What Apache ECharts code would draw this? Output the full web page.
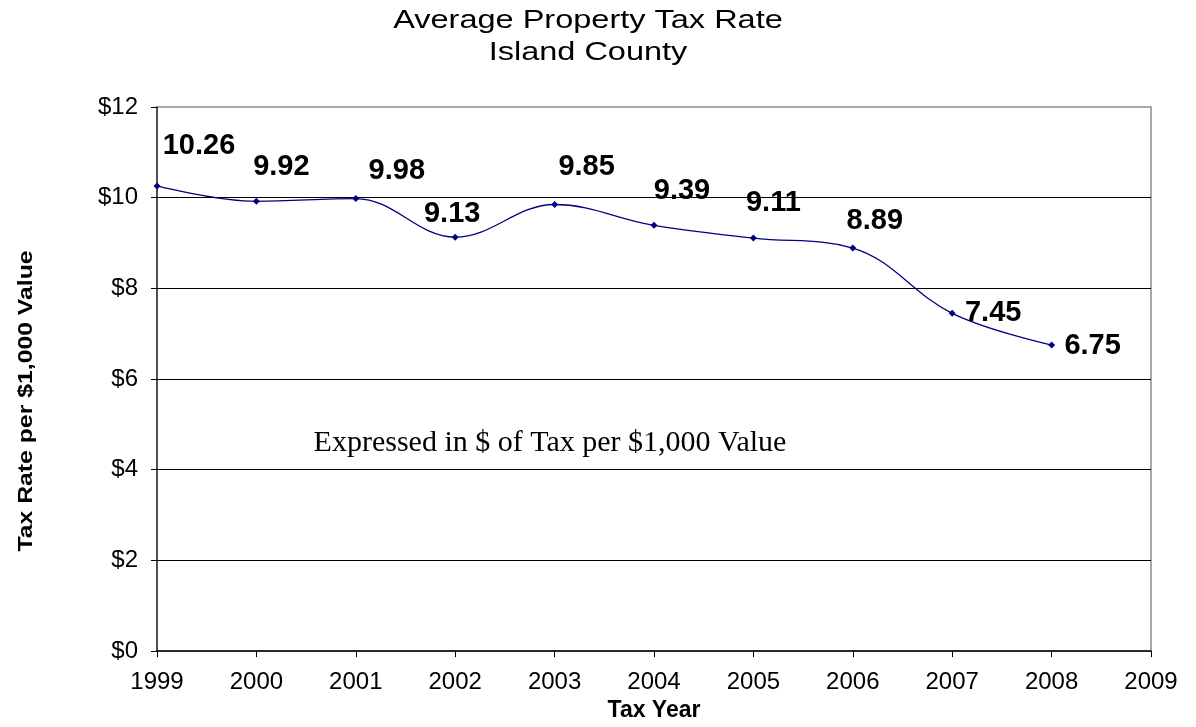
<!DOCTYPE html>
<html>
<head>
<meta charset="utf-8">
<script src="https://cdn.jsdelivr.net/npm/echarts@6/dist/echarts.min.js"></script>
<style>html,body{margin:0;padding:0;background:#fff}#c{width:1196px;height:727px}</style>
</head>
<body>
<div id="c"></div>
<script>
// Data
const years = [1999, 2000, 2001, 2002, 2003, 2004, 2005, 2006, 2007, 2008];
const rates = [10.26, 9.92, 9.98, 9.13, 9.85, 9.39, 9.11, 8.89, 7.45, 6.75];
const yTickLabels = ['$0', '$2', '$4', '$6', '$8', '$10', '$12'];
const titleLines = ['Average Property Tax Rate', 'Island County'];
const noteText = 'Expressed in $ of Tax per $1,000 Value';
// Label nudges (style, px offsets from each point)
const labelNudges = [[42,-40],[25,-34],[41,-28],[-3,-23],[32,-37],[28,-34],[20,-35],[22,-27],[41,0],[41,1]];

const chart = echarts.init(document.getElementById('c'), null, {renderer: 'canvas'});
const F = '"Liberation Sans", Arial, sans-serif';
const option = {
  backgroundColor: '#fff',
  animation: false,
  grid: {left: 157, right: 45, top: 107, bottom: 69, show: true, borderColor: '#8c8c8c', borderWidth: 1.5},
  graphic: [
    {type: 'text', x: 588, y: 21, scaleX: 1.25, style: {text: titleLines[0], font: '26px ' + F, fill: '#000', align: 'center', verticalAlign: 'middle'}},
    {type: 'text', x: 588, y: 53, scaleX: 1.25, style: {text: titleLines[1], font: '26px ' + F, fill: '#000', align: 'center', verticalAlign: 'middle'}},
    {type: 'text', x: 26, y: 401, rotation: Math.PI/2, scaleX: 1.18, style: {text: 'Tax Rate per $1,000 Value', font: 'bold 21px ' + F, fill: '#000', align: 'center', verticalAlign: 'middle'}},
    {type: 'text', x: 550, y: 443, style: {text: noteText, font: '30px "Liberation Serif", "Times New Roman", serif', fill: '#000', align: 'center', verticalAlign: 'middle'}}
  ],
  xAxis: {
    type: 'value', min: 1999, max: 2009, interval: 1,
    name: 'Tax Year', nameLocation: 'middle', nameGap: 46,
    nameTextStyle: {fontFamily: F, fontSize: 23, fontWeight: 'bold', color: '#000'},
    axisLine: {show: true, lineStyle: {color: '#000', width: 1.5}},
    axisTick: {show: true, length: 6, lineStyle: {color: '#000'}},
    axisLabel: {fontFamily: F, fontSize: 24, color: '#000', margin: 19, formatter: v => String(v)},
    splitLine: {show: false}
  },
  yAxis: {
    type: 'value', min: 0, max: 12, interval: 2,
    axisLine: {show: true, lineStyle: {color: '#333', width: 1.5}},
    axisTick: {show: true, length: 6, lineStyle: {color: '#000'}},
    axisLabel: {fontFamily: F, fontSize: 24, color: '#000', margin: 19, formatter: v => yTickLabels[v/2]},
    splitLine: {show: true, showMaxLine: false, showMinLine: false, lineStyle: {color: '#000', width: 1}}
  },
  series: [{
    type: 'line',
    smooth: 0.38,
    data: years.map((y, i) => ({
      value: [y, rates[i]],
      label: {offset: labelNudges[i]}
    })),
    symbol: 'diamond', symbolSize: 7,
    itemStyle: {color: '#000080'},
    lineStyle: {color: '#000080', width: 1.3},
    label: {
      show: true, position: 'inside',
      formatter: p => p.value[1].toFixed(2),
      fontFamily: F, fontSize: 29, fontWeight: 'bold', color: '#000'
    }
  }]
};
chart.setOption(option);
</script>
</body>
</html>
